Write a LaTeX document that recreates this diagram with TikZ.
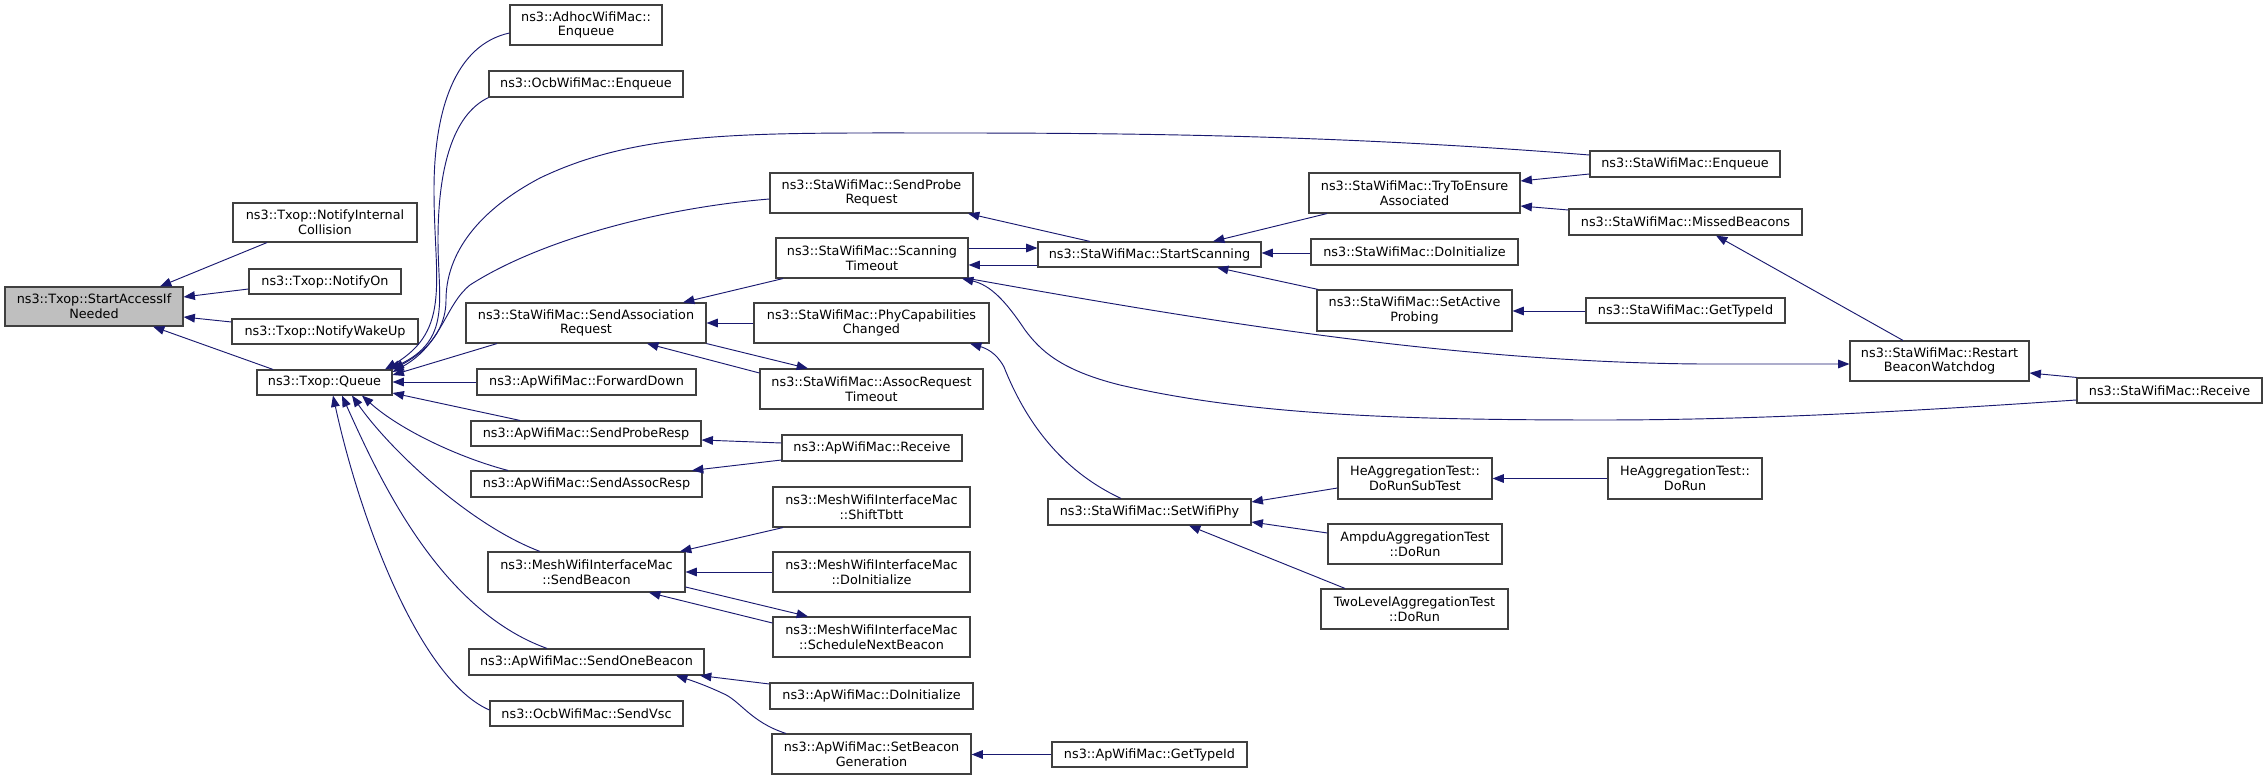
\documentclass[tikz,border=0pt]{standalone}
\usepackage{fontspec}
\setmainfont{DejaVu Sans}
\usetikzlibrary{arrows.meta,calc}
\definecolor{edgec}{HTML}{191970}
\definecolor{boxc}{HTML}{404040}
\definecolor{rootc}{HTML}{BFBFBF}
\tikzset{
  fbox/.style={draw=boxc, line width=0.85pt, fill=white, inner sep=0pt, align=center,
    font=\fontsize{9.6}{11.2}\selectfont, text=black},
  rootbox/.style={fbox, fill=rootc},
  arr/.style={draw=edgec, line width=0.7pt, -{Triangle[length=8.5pt,width=6.5pt]}},
}
\newcommand{\mkbox}[7][fbox]{%
  \node[#1, minimum width={(#5-#3)*0.75pt}, minimum height={(#6-#4)*0.75pt}]
    (#2) at ({(#3+#5)/2},{(#4+#6)/2}) {#7};}
\begin{document}
\begin{tikzpicture}[x=0.75pt, y=-0.75pt]
\fill[white] (0,0) rectangle (2267,780);
\useasboundingbox (0,0) rectangle (2267,780);
% nodes
\mkbox[rootbox]{sa}{5}{287}{183}{326}{ns3::Txop::StartAccessIf\\Needed}
\mkbox{nic}{233}{203}{417}{242}{ns3::Txop::NotifyInternal\\Collision}
\mkbox{non}{249}{269}{401}{294}{ns3::Txop::NotifyOn}
\mkbox{nwu}{232}{319}{418}{344}{ns3::Txop::NotifyWakeUp}
\mkbox{q}{257}{370}{392}{395}{ns3::Txop::Queue}
\mkbox{adh}{510}{5}{662}{45}{ns3::AdhocWifiMac::\\Enqueue}
\mkbox{ocbe}{489}{71}{683}{97}{ns3::OcbWifiMac::Enqueue}
\mkbox{spr}{770}{173}{973}{213}{ns3::StaWifiMac::SendProbe\\Request}
\mkbox{sto}{776}{238}{968}{278}{ns3::StaWifiMac::Scanning\\Timeout}
\mkbox{sar}{466}{303}{706}{343}{ns3::StaWifiMac::SendAssociation\\Request}
\mkbox{pcc}{754}{303}{989}{343}{ns3::StaWifiMac::PhyCapabilities\\Changed}
\mkbox{fwd}{477}{369}{696}{395}{ns3::ApWifiMac::ForwardDown}
\mkbox{art}{760}{369}{983}{409}{ns3::StaWifiMac::AssocRequest\\Timeout}
\mkbox{sprs}{471}{421}{701}{446}{ns3::ApWifiMac::SendProbeResp}
\mkbox{apr}{782}{435}{962}{461}{ns3::ApWifiMac::Receive}
\mkbox{sars}{471}{471}{702}{497}{ns3::ApWifiMac::SendAssocResp}
\mkbox{stb}{773}{487}{970}{527}{ns3::MeshWifiInterfaceMac\\::ShiftTbtt}
\mkbox{sbc}{488}{552}{685}{592}{ns3::MeshWifiInterfaceMac\\::SendBeacon}
\mkbox{mdi}{773}{552}{970}{592}{ns3::MeshWifiInterfaceMac\\::DoInitialize}
\mkbox{snb}{773}{617}{970}{657}{ns3::MeshWifiInterfaceMac\\::ScheduleNextBeacon}
\mkbox{sob}{469}{649}{704}{675}{ns3::ApWifiMac::SendOneBeacon}
\mkbox{adi}{770}{683}{973}{709}{ns3::ApWifiMac::DoInitialize}
\mkbox{vsc}{490}{701}{683}{726}{ns3::OcbWifiMac::SendVsc}
\mkbox{sbg}{772}{734}{971}{774}{ns3::ApWifiMac::SetBeacon\\Generation}
\mkbox{ss}{1038}{242}{1261}{267}{ns3::StaWifiMac::StartScanning}
\mkbox{tte}{1309}{173}{1520}{213}{ns3::StaWifiMac::TryToEnsure\\Associated}
\mkbox{sdi}{1311}{239}{1518}{265}{ns3::StaWifiMac::DoInitialize}
\mkbox{sap}{1317}{290}{1512}{331}{ns3::StaWifiMac::SetActive\\Probing}
\mkbox{swp}{1048}{499}{1251}{525}{ns3::StaWifiMac::SetWifiPhy}
\mkbox{drs}{1338}{458}{1492}{499}{HeAggregationTest::\\DoRunSubTest}
\mkbox{amp}{1328}{524}{1502}{564}{AmpduAggregationTest\\::DoRun}
\mkbox{two}{1321}{589}{1508}{629}{TwoLevelAggregationTest\\::DoRun}
\mkbox{agt}{1052}{742}{1247}{767}{ns3::ApWifiMac::GetTypeId}
\mkbox{sen}{1590}{151}{1780}{177}{ns3::StaWifiMac::Enqueue}
\mkbox{mb}{1569}{209}{1802}{235}{ns3::StaWifiMac::MissedBeacons}
\mkbox{sgt}{1586}{298}{1785}{323}{ns3::StaWifiMac::GetTypeId}
\mkbox{rbw}{1850}{341}{2029}{381}{ns3::StaWifiMac::Restart\\BeaconWatchdog}
\mkbox{srv}{2077}{378}{2262}{403}{ns3::StaWifiMac::Receive}
\mkbox{hdr}{1608}{458}{1762}{499}{HeAggregationTest::\\DoRun}
% edges into StartAccessIfNeeded
\draw[arr] (nic.south -| 267,0) -- (sa.north -| 160,0);
\draw[arr] (non.west |- 0,289) -- (sa.east |- 0,297);
\draw[arr] (nwu.west |- 0,322) -- (sa.east |- 0,317);
\draw[arr] (q.north -| 273,0) -- (sa.south -| 153,0);
% edges into Queue
\draw[arr] (adh.west |- 0,33) .. controls (455,45) and (434,110) .. (434,190)
  .. controls (434,280) and (452,330) .. (q.north -| 385,0);
\draw[arr] (ocbe.south west) .. controls (452,115) and (438,170) .. (438,240)
  .. controls (438,300) and (452,340) .. (q.north -| 389,0);
\draw[arr] (sen.west |- 0,155) .. controls (1350,136) and (1150,133) .. (950,133)
  .. controls (750,133) and (640,130) .. (540,178)
  .. controls (470,215) and (446,260) .. (446,300)
  .. controls (446,335) and (420,355) .. (q.north east);
\draw[arr] (spr.west |- 0,199) .. controls (660,208) and (540,240) .. (470,285)
  .. controls (445,305) and (442,345) .. (q.east |- 0,372);
\draw[arr] (sar.south -| 497,0) -- (q.east |- 0,375);
\draw[arr] (fwd.west) -- (q.east |- fwd.west);
\draw[arr] (sprs.north -| 520,0) -- (q.east |- 0,393);
\draw[arr] (sars.north -| 508,0) .. controls (460,458) and (400,430) .. (q.south -| 362,0);
\draw[arr] (sbc.north -| 540,0) .. controls (470,525) and (390,450) .. (q.south -| 352,0);
\draw[arr] (sob.north -| 547,0) .. controls (440,610) and (380,480) .. (q.south -| 342,0);
\draw[arr] (vsc.west |- 0,710) .. controls (420,680) and (360,520) .. (q.south -| 333,0);
% StaWifiMac scanning cluster
\draw[arr] (ss.north -| 1090,0) -- (spr.south -| 968,0);
\draw[arr] (sto.east |- 0,248) -- (ss.west |- 0,248);
\draw[arr] (ss.west |- 0,265) -- (sto.east |- 0,265);
\draw[arr] (sto.south east) .. controls (1200,320) and (1450,362) .. (1700,364) -- (rbw.west |- 0,364);
\draw[arr] (srv.west |- 0,400) .. controls (1900,412) and (1750,420) .. (1600,420)
  .. controls (1400,420) and (1250,415) .. (1120,385)
  .. controls (1060,370) and (1040,350) .. (1025,330)
  .. controls (1005,300) and (990,285) .. (sto.south -| 962,0);
\draw[arr] (pcc.west) -- (sar.east |- pcc.west);
\draw[arr] (sto.south -| 783,0) -- (sar.north -| 683,0);
\draw[arr] (art.west |- 0,373) -- (sar.south -| 647,0);
\draw[arr] (sar.south east) -- (art.north -| 808,0);
\draw[arr] (tte.south -| 1327,0) -- (ss.north -| 1213,0);
\draw[arr] (sdi.west |- 0,253) -- (ss.east |- 0,253);
\draw[arr] (sap.north -| 1318,0) -- (ss.south -| 1217,0);
\draw[arr] (sen.west |- 0,174) -- (tte.east |- 0,181);
\draw[arr] (mb.west |- 0,210) -- (tte.east |- 0,206);
\draw[arr] (sgt.west |- 0,311) -- (sap.east |- 0,311);
\draw[arr] (rbw.north -| 1903,0) -- (mb.south -| 1716,0);
\draw[arr] (srv.north west) -- (rbw.east |- 0,373);
% SetWifiPhy cluster
\draw[arr] (swp.north -| 1121,0) .. controls (1060,470) and (1025,420) .. (1004,367)
  .. controls (996,352) and (985,348) .. (pcc.south -| 970,0);
\draw[arr] (drs.west |- 0,488) -- (swp.east |- 0,502);
\draw[arr] (amp.west |- 0,533) -- (swp.east |- 0,522);
\draw[arr] (two.north -| 1345,0) -- (swp.south -| 1189,0);
\draw[arr] (hdr.west) -- (drs.east |- hdr.west);
% ApWifiMac / Mesh cluster
\draw[arr] (apr.west |- 0,443) -- (sprs.east |- 0,440);
\draw[arr] (apr.west |- 0,460) -- (sars.north -| 692,0);
\draw[arr] (stb.south -| 783,0) -- (sbc.north -| 680,0);
\draw[arr] (mdi.west) -- (sbc.east |- mdi.west);
\draw[arr] (snb.west |- 0,623) -- (sbc.south -| 649,0);
\draw[arr] (sbc.east |- 0,587) -- (snb.north -| 808,0);
\draw[arr] (adi.west |- 0,684) -- (sob.south -| 700,0);
\draw[arr] (sbg.north -| 786,0) .. controls (750,722) and (740,700) .. (722,693)
  .. controls (705,685) and (690,680) .. (sob.south -| 676,0);
\draw[arr] (agt.west) -- (sbg.east |- agt.west);
\end{tikzpicture}
\end{document}
